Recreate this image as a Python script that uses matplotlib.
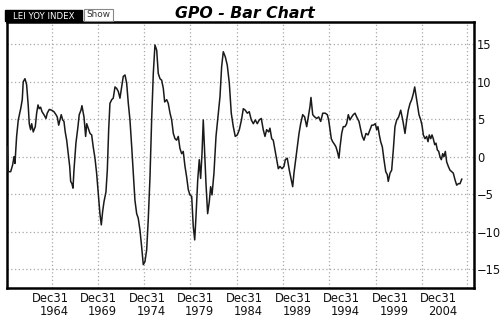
import matplotlib
matplotlib.use("Agg")
import matplotlib.pyplot as plt
from matplotlib.patches import Rectangle

# LEI year-over-year change (decimal year, percent)
years = [
    1960.61, 1960.71, 1960.96, 1961.16, 1961.30, 1961.40, 1961.57, 1961.74, 1961.99, 1962.15,
    1962.25, 1962.43, 1962.60, 1962.77, 1962.87, 1963.01, 1963.12, 1963.28, 1963.49, 1963.63,
    1963.77, 1963.90, 1964.04, 1964.18, 1964.38, 1964.59, 1964.72, 1964.93, 1965.17, 1965.41,
    1965.62, 1965.75, 1965.90, 1966.03, 1966.16, 1966.31, 1966.44, 1966.57, 1966.72, 1966.88,
    1967.03, 1967.13, 1967.26, 1967.37, 1967.47, 1967.67, 1967.88, 1968.01, 1968.19, 1968.29,
    1968.50, 1968.67, 1968.78, 1968.94, 1969.12, 1969.29, 1969.45, 1969.63, 1969.80, 1969.97,
    1970.14, 1970.28, 1970.42, 1970.56, 1970.76, 1970.90, 1971.04, 1971.17, 1971.35, 1971.51,
    1971.69, 1971.86, 1972.03, 1972.20, 1972.38, 1972.54, 1972.72, 1972.89, 1973.06, 1973.23,
    1973.41, 1973.57, 1973.74, 1973.92, 1974.08, 1974.26, 1974.43, 1974.60, 1974.77, 1974.95,
    1975.11, 1975.29, 1975.46, 1975.63, 1975.80, 1975.98, 1976.14, 1976.32, 1976.49, 1976.66,
    1976.80, 1977.01, 1977.17, 1977.35, 1977.52, 1977.69, 1977.86, 1978.03, 1978.20, 1978.37,
    1978.55, 1978.71, 1978.89, 1979.06, 1979.23, 1979.40, 1979.58, 1979.74, 1979.89, 1980.02,
    1980.20, 1980.36, 1980.50, 1980.64, 1980.77, 1980.92, 1981.05, 1981.22, 1981.39, 1981.53,
    1981.67, 1981.87, 1982.08, 1982.28, 1982.49, 1982.66, 1982.83, 1983.04, 1983.24, 1983.45,
    1983.65, 1983.86, 1984.06, 1984.27, 1984.48, 1984.70, 1984.89, 1985.09, 1985.30, 1985.50,
    1985.71, 1985.92, 1986.12, 1986.33, 1986.53, 1986.74, 1986.94, 1987.12, 1987.29, 1987.50,
    1987.63, 1987.81, 1987.97, 1988.15, 1988.32, 1988.49, 1988.66, 1988.87, 1989.07, 1989.21,
    1989.41, 1989.62, 1989.83, 1989.97, 1990.10, 1990.28, 1990.44, 1990.62, 1990.79, 1991.00,
    1991.20, 1991.41, 1991.57, 1991.75, 1991.85, 1992.03, 1992.23, 1992.44, 1992.64, 1992.85,
    1993.06, 1993.32, 1993.53, 1993.67, 1993.81, 1993.94, 1994.08, 1994.29, 1994.42, 1994.56,
    1994.73, 1994.84, 1995.01, 1995.17, 1995.35, 1995.52, 1995.69, 1995.86, 1996.04, 1996.20,
    1996.38, 1996.55, 1996.79, 1996.97, 1997.13, 1997.30, 1997.51, 1997.72, 1997.92, 1998.10,
    1998.26, 1998.47, 1998.61, 1998.74, 1998.88, 1999.02, 1999.19, 1999.36, 1999.54, 1999.70,
    1999.80, 1999.98, 2000.15, 2000.32, 2000.49, 2000.67, 2000.87, 2001.08, 2001.29, 2001.52,
    2001.70, 2001.86, 2002.04, 2002.21, 2002.38, 2002.52, 2002.65, 2002.79, 2002.96, 2003.14,
    2003.27, 2003.41, 2003.58, 2003.75, 2003.89, 2004.02, 2004.17, 2004.30, 2004.43, 2004.58,
    2004.71, 2004.85, 2004.99, 2005.12, 2005.26, 2005.40, 2005.53, 2005.67, 2005.81, 2005.98,
    2006.15, 2006.33, 2006.49, 2006.67, 2006.84, 2007.01, 2007.18, 2007.36,
]
lei_yoy = [
    1.3, -2.0, -2.0, -1.1, 0.0, -0.9, 2.7, 4.9, 6.4, 7.6,
    10.0, 10.4, 9.6, 6.7, 4.4, 3.6, 4.4, 3.3, 4.0, 5.8,
    6.9, 6.4, 6.6, 6.0, 5.6, 5.1, 5.8, 6.3, 6.2, 6.0,
    5.6, 5.3, 4.2, 4.9, 5.6, 4.9, 4.7, 3.3, 2.2, 0.4,
    -1.3, -3.3, -3.6, -4.2, -1.8, 1.8, 4.0, 5.6, 6.2, 6.8,
    5.3, 2.7, 4.4, 3.8, 3.1, 2.9, 1.3, -0.2, -2.2, -4.9,
    -7.6, -9.1, -7.3, -6.0, -4.7, -1.8, 3.6, 7.1, 7.6, 7.8,
    9.3, 9.1, 8.7, 7.8, 9.3, 10.7, 10.9, 9.8, 7.1, 4.9,
    1.3, -2.2, -5.8, -7.6, -8.2, -9.8, -12.0, -14.4, -14.0, -12.4,
    -8.4, -2.7, 4.9, 11.1, 14.9, 14.2, 11.1, 10.4, 10.2, 9.1,
    7.3, 7.6, 7.1, 5.8, 4.9, 3.1, 2.4, 2.2, 2.7, 1.1,
    0.4, 0.7, -1.3, -2.7, -4.4, -5.1, -5.3, -9.3, -11.1, -8.0,
    -3.1, -0.4, -2.9, 0.4, 4.9, 0.4, -3.6, -7.6, -6.0, -4.0,
    -5.1, -2.2, 2.7, 5.3, 8.0, 12.0, 14.0, 13.3, 12.2, 9.8,
    5.8, 4.0, 2.7, 2.9, 3.6, 4.9, 6.4, 6.2, 5.8, 6.0,
    4.9, 4.4, 4.9, 4.4, 4.9, 5.1, 3.6, 2.7, 3.6, 3.3,
    3.8, 2.4, 2.2, 0.9, -0.4, -1.6, -1.3, -1.6, -1.3, -0.4,
    -0.2, -1.8, -3.1, -4.0, -2.2, -0.4, 1.3, 3.1, 4.4, 5.6,
    5.3, 4.0, 5.3, 6.7, 7.9, 5.6, 5.3, 5.1, 5.3, 4.7,
    5.8, 5.8, 5.6, 4.9, 3.6, 2.4, 2.0, 1.6, 1.3, 0.7,
    -0.2, 1.3, 3.1, 4.0, 4.0, 4.4, 5.6, 4.9, 5.3, 5.6,
    5.8, 5.3, 4.7, 3.6, 2.7, 2.2, 3.1, 2.9, 3.6, 4.2,
    4.2, 4.4, 3.6, 4.0, 2.9, 2.0, 1.3, -0.4, -2.0, -2.4,
    -3.3, -2.2, -1.8, 0.9, 4.0, 4.9, 5.3, 6.2, 4.9, 3.1,
    4.9, 6.2, 7.1, 7.6, 8.4, 9.3, 8.2, 7.1, 5.6, 4.9,
    4.2, 2.9, 2.4, 2.7, 2.0, 2.9, 2.4, 2.9, 2.4, 1.6,
    1.8, 0.9, 0.7, 0.0, -0.4, 0.4, 0.0, 0.7, -0.7, -1.3,
    -1.8, -2.0, -2.2, -3.1, -3.8, -3.6, -3.6, -3.0,
]

label_years = [1965, 1970, 1975, 1980, 1985, 1990, 1995, 2000, 2005]
label_text = ["Dec31\n1964", "Dec31\n1969", "Dec31\n1974", "Dec31\n1979", "Dec31\n1984",
              "Dec31\n1989", "Dec31\n1994", "Dec31\n1999", "Dec31\n2004"]
grid_years = [1965.21, 1969.94, 1974.67, 1979.43, 1984.24, 1988.97, 1993.70, 1998.51,
              2003.24, 2007.87]
y_ticks = [-15, -10, -5, 0, 5, 10, 15]

DOTS = (0, (1, 2))

fig = plt.figure(figsize=(5.0, 3.29), dpi=100, facecolor="white")
ax = fig.add_axes([0.0134, 0.1261, 0.9346, 0.807])

ax.plot(years, lei_yoy, color="#1a1a1a", linewidth=1.1, zorder=3)

ax.set_xlim(1960.55, 2008.62)
ax.set_ylim(-17.45, 17.96)

ax.set_xticks(label_years)
ax.set_xticklabels(label_text, fontsize=8.3, multialignment="right", linespacing=1.05)
ax.set_xticks(grid_years, minor=True)
ax.set_yticks(y_ticks)
ax.yaxis.tick_right()
ax.tick_params(axis="both", which="both", length=0, labelsize=8.3, colors="#111111")
ax.tick_params(axis="y", pad=2)
ax.tick_params(axis="x", pad=3)

ax.grid(True, which="minor", axis="x", color="#a8a8a8", linestyle=DOTS, linewidth=0.9)
ax.grid(True, which="major", axis="y", color="#a8a8a8", linestyle=DOTS, linewidth=0.9)
ax.grid(False, which="major", axis="x")

for side in ax.spines.values():
    side.set_linewidth(1.8)
    side.set_color("black")

fig.text(0.489, 0.960, "GPO - Bar Chart", ha="center", va="center",
         fontsize=11.3, fontweight="bold", fontstyle="italic")

# header widgets at the top-left
fig.patches.append(Rectangle((0.010, 0.935), 0.154, 0.034, transform=fig.transFigure,
                             facecolor="black", edgecolor="black"))
fig.text(0.087, 0.951, "LEI YOY INDEX", color="white", ha="center", va="center", fontsize=6.2)
fig.patches.append(Rectangle((0.167, 0.937), 0.059, 0.037, transform=fig.transFigure,
                             facecolor="white", edgecolor="#888888", linewidth=0.8))
fig.text(0.1965, 0.955, "Show", color="#333333", ha="center", va="center", fontsize=6.4)

fig.savefig("out.png", dpi=100)
